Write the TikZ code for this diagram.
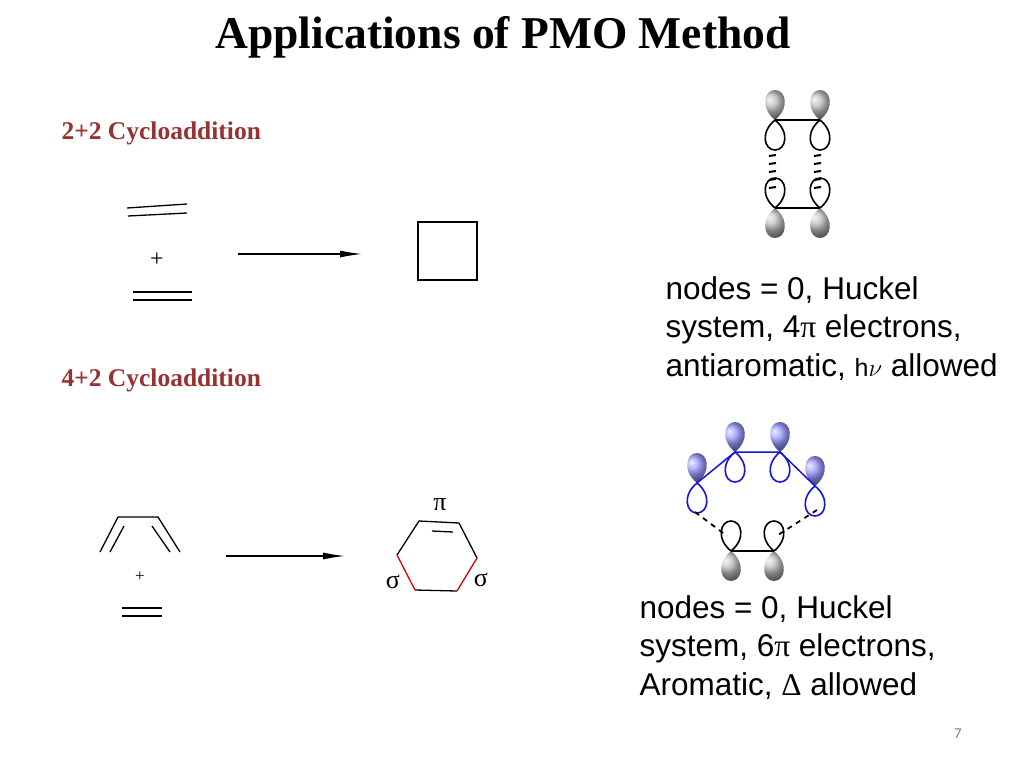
\documentclass[tikz,border=0pt]{standalone}
\usepackage{fontspec}
\setmainfont{Liberation Serif}
\setsansfont{Liberation Sans}
\newfontfamily\calib{Carlito}
\newfontfamily\serifgr{Liberation Serif}
\usetikzlibrary{arrows.meta}
\definecolor{lab}{RGB}{150,50,50}
\definecolor{orbblue}{RGB}{20,20,220}
\tikzset{
 bond/.style={line width=1.3pt},
 rxn/.style={line width=1.2pt,-{Latex[length=22pt,width=7pt]}},
 sect/.style={font=\bfseries\fontsize{25.5}{28}\selectfont,text=lab,anchor=west},
 desc/.style={font=\sffamily\fontsize{31.5}{38.5}\selectfont,anchor=base west,align=left},
 wlobe/.style={fill=white,line width=1.6pt},
 globe/.style={draw=none,ball color=gray!50},
 blobe/.style={draw=none,ball color=blue!40},
 dsh/.style={line width=1.8pt,dash pattern=on 5pt off 5pt},
}
\newcommand{\lobe}[4]{%
 \begin{scope}[shift={(#1,#2)},rotate=#3]
 \path[#4] (0,0) .. controls (-15,-12) and (-11,-30) .. (0,-30) .. controls (11,-30) and (15,-12) .. (0,0);
 \end{scope}}
\newcommand{\ticks}[2]{%
 \foreach \k in {0,...,4}{\draw[line width=2pt] (#1-4,#2+\k*8) -- (#1+3,#2+\k*8-1);}}
\begin{document}
\begin{tikzpicture}[x=1pt,y=-1pt]
\useasboundingbox (0,0) rectangle (1024,768);
\node[font=\bfseries\fontsize{45.5}{50}\selectfont] (title) at (503,37) {Applications of PMO Method};
\node[sect] (l1) at (58,133) {2+2 Cycloaddition};
\node[sect] (l2) at (58,380) {4+2 Cycloaddition};
% 2+2
\draw[bond] (127,208) -- (187,204);
\draw[bond] (128,216) -- (187,213);
\node[font=\fontsize{24}{26}\selectfont] (p1) at (157,260) {+};
\draw[bond] (133,292) -- (192,292);
\draw[bond] (133,300) -- (192,300);
\coordinate (a1s) at (238,254); \coordinate (a1e) at (362,254);
\draw[rxn] (a1s) -- (a1e);
\draw[line width=1.4pt] (418,222) rectangle (477,280);
% 4+2
\draw[bond] (100,552) -- (118,517) -- (158,517) -- (180,552);
\draw[bond] (110,552) -- (124,526);
\draw[bond] (152,526) -- (170,552);
\node[font=\fontsize{17}{18}\selectfont] (p2) at (140,577) {+};
\draw[bond] (122,608) -- (162,608);
\draw[bond] (122,616) -- (162,616);
\coordinate (a2s) at (226,556); \coordinate (a2e) at (345,556);
\draw[rxn] (a2s) -- (a2e);
\draw[bond] (397,555) -- (419,521) -- (459,523) -- (477,558);
\draw[bond] (415,590) -- (457,591);
\draw[bond,red!85!black] (397,555) -- (415,590);
\draw[bond,red!85!black] (477,558) -- (457,591);
\draw[bond] (432,531) -- (453,532);
\node[font=\fontsize{26}{28}\selectfont] (pi) at (440,505) {π};
\node[font=\fontsize{26}{28}\selectfont] (s1) at (393,582) {σ};
\node[font=\fontsize{26}{28}\selectfont] (s2) at (481,580) {σ};
% top orbital diagram
\foreach \x in {775,820}{
 \lobe{\x}{120}{0}{globe}
 \lobe{\x}{120}{180}{wlobe,draw=black}
 \lobe{\x}{208}{0}{wlobe,draw=black}
 \lobe{\x}{208}{180}{globe}
 \ticks{\x-2}{156}
}
\draw[line width=1.3pt] (775,120) -- (820,120);
\draw[line width=1.3pt] (775,208) -- (820,208);
% bottom orbital diagram
\foreach \x/\y in {697/483,735/452,780/452,815/486}{
 \lobe{\x}{\y}{0}{blobe}
 \lobe{\x}{\y}{180}{wlobe,draw=orbblue}
}
\draw[line width=1.5pt,orbblue] (697,483) -- (735,452) -- (780,452) -- (815,486);
\foreach \x in {731,774}{
 \lobe{\x}{551}{0}{wlobe,draw=black}
 \lobe{\x}{551}{180}{globe}
}
\draw[line width=1.3pt] (731,551) -- (774,551);
\draw[dsh] (695,512) -- (727,536);
\draw[dsh] (817,510) -- (778,535);
% texts
\node[desc] (t1) at (662,376) {nodes = 0, Huckel\\system, 4{\serifgr π} electrons,\\antiaromatic, {\fontsize{25}{26}\selectfont h$\nu$} allowed};
\node[desc] (t2) at (636,695) {nodes = 0, Huckel\\system, 6{\serifgr π} electrons,\\Aromatic, {\serifgr Δ} allowed};
\node[font=\calib\fontsize{15}{16}\selectfont,text=gray] (pg) at (958,734) {7};
\end{tikzpicture}
\end{document}
